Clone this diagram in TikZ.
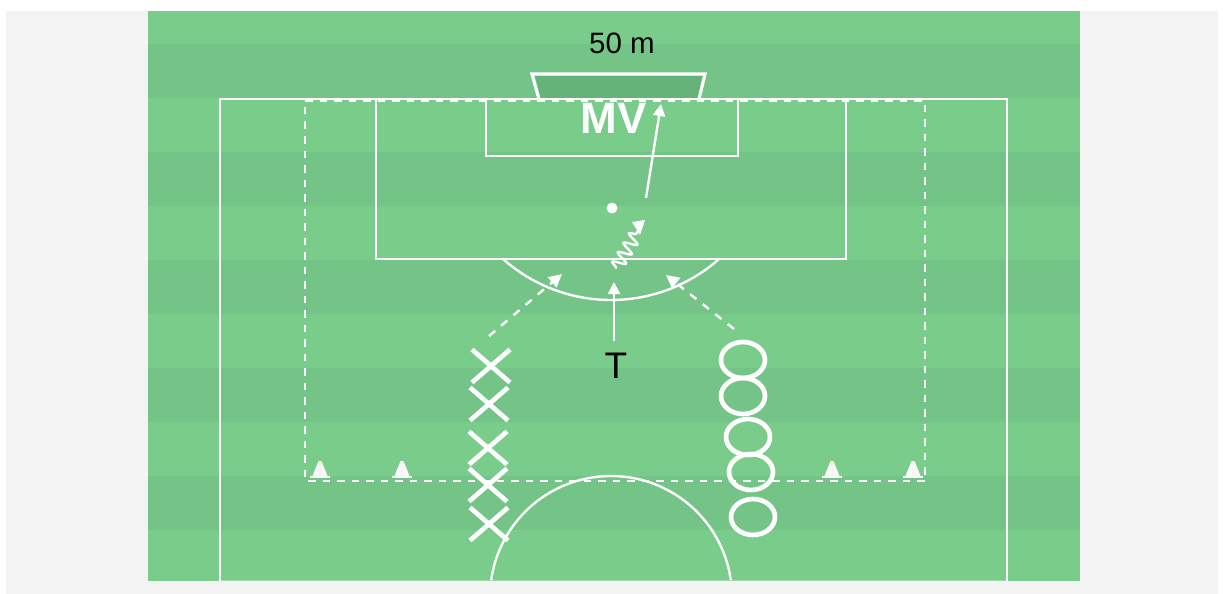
\documentclass[tikz,border=0pt]{standalone}
\usepackage{fontspec}
\setmainfont{Liberation Sans}
\usetikzlibrary{arrows.meta,decorations.pathmorphing}
\definecolor{pagegray}{HTML}{F3F3F3}
\definecolor{turfA}{HTML}{79CC8A}
\definecolor{turfB}{HTML}{73C486}
\definecolor{goalfill}{HTML}{66B37A}
\tikzset{
  pitchline/.style={draw=white,line width=2.4pt},
  dashline/.style={draw=white,line width=2.4pt,dash pattern=on 7.5pt off 7pt},
  thinarrow/.style={draw=white,line width=2.4pt,-{Triangle[length=12pt,width=12pt]}},
  dasharrow/.style={draw=white,line width=2.4pt,dash pattern=on 8pt off 8pt,-{Triangle[length=13pt,width=13pt]}},
  crossmark/.style={draw=white,line width=4.7pt},
  ringmark/.style={draw=white,line width=4.7pt},
  lbl/.style={inner sep=0pt,text=black},
}
\newcommand{\crossat}[2]{\draw[crossmark] (#1-19,#2-16.5) -- (#1+19,#2+16.5) (#1-19,#2+16.5) -- (#1+19,#2-16.5);}
\newcommand{\coneat}[2]{\fill[white] (#1-10,#2) rectangle (#1+10,#2+1.6);
  \shade[left color=white,right color=white,middle color=black!4] (#1-7.5,#2) -- (#1-1.5,#2-15) -- (#1+1.5,#2-15) -- (#1+7.5,#2) -- cycle;}
\begin{document}
\begin{tikzpicture}[x=1pt,y=-1pt]
\useasboundingbox (0,0) rectangle (1223,594);
\fill[white] (0,0) rectangle (1223,594);
\fill[pagegray] (6,11) rectangle (1218,594);
% turf
\fill[turfA] (148,11) rectangle (1080,581);
\foreach \y in {44,152,260,368,476}{\fill[turfB] (148,\y) rectangle (1080,\y+54);}
% goal
\fill[goalfill] (536,76) -- (703,76) -- (699,99) -- (540,99) -- cycle;
\draw[pitchline,line width=3.2pt] (539,99) -- (532,74) -- (705,74) -- (699,99);
% pitch
\draw[pitchline] (220,581) -- (220,99) -- (1007,99) -- (1007,581);
\draw[white,opacity=.3,line width=1pt] (220,580) -- (1007,580);
\draw[pitchline] (376,99) -- (376,259) -- (846,259) -- (846,99);
\draw[pitchline] (486,99) -- (486,156) -- (738,156) -- (738,99);
\draw[pitchline] plot[domain=48.4:131.6,samples=50,smooth] ({611+162.7*cos(\x)},{137.3+162.7*sin(\x)});
\draw[pitchline] plot[domain=188:352,samples=70,smooth] ({611+121*cos(\x)},{597+121*sin(\x)});
% dashed area
\draw[dashline] (305,101) -- (925,101) -- (925,481) -- (305,481) -- cycle;
% cones
\coneat{320}{476}\coneat{402}{476}\coneat{832}{476}\coneat{913}{476}
% ball
\node[circle,fill=white,minimum size=11pt,inner sep=0pt] (ball) at (612,208) {};
% labels
\node[lbl,font=\fontsize{29.5}{30}\selectfont] (dist) at (622,43) {50 m};
\node[lbl,text=white,font=\fontsize{44}{44}\selectfont\bfseries] (mv) at (613.5,118) {MV};
\node[lbl,font=\fontsize{37}{37}\selectfont] (t) at (616,366) {T};
% coordinates
\coordinate (shotA) at (646,198);
\coordinate (shotB) at (661,104);
\coordinate (runA) at (614,341);
\coordinate (runB) at (614,282);
\coordinate (leftA) at (489,336);
\coordinate (leftB) at (562,274);
\coordinate (rightA) at (734,329);
\coordinate (rightB) at (666,275);
\coordinate (dribA) at (616,268);
\coordinate (dribB) at (638,231);
\coordinate (dribC) at (645,220);
\draw[thinarrow] (shotA) -- (shotB);
\draw[thinarrow] (runA) -- (runB);
\draw[dasharrow] (leftA) -- (leftB);
\draw[dasharrow] (rightA) -- (rightB);
\draw[draw=white,line width=2.4pt,line cap=round,decorate,decoration={snake,segment length=11pt,amplitude=6.5pt}] (dribA) -- (dribB);
\fill[white] (dribC) -- (632,222) -- (640,235) -- cycle;
% players
\crossat{491}{366}\crossat{489}{404}\crossat{488}{448}\crossat{488}{485}\crossat{489}{524}
\foreach \p/\q in {743/360,743/396,748/437,751/472,753/517}{\draw[ringmark] (\p,\q) ellipse (22pt and 18pt);}
\end{tikzpicture}
\end{document}
